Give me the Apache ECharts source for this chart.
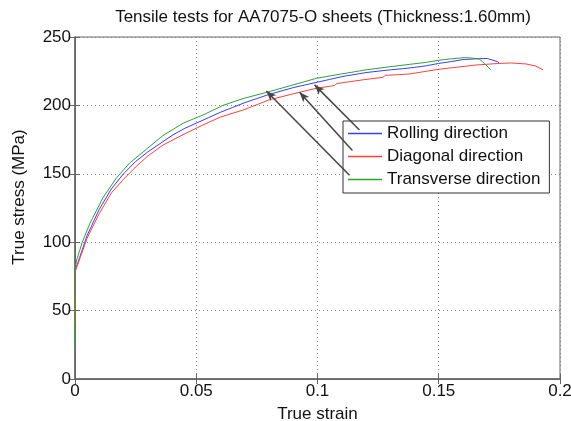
<!DOCTYPE html>
<html>
<head>
<meta charset="utf-8">
<script src="https://cdn.jsdelivr.net/npm/echarts@6/dist/echarts.min.js"></script>
<style>
  html, body { margin: 0; padding: 0; background: #fff; }
  #chart { width: 571px; height: 421px; }
</style>
</head>
<body>
<div id="chart"></div>
<script>
// [true strain, true stress (MPa)]
const rolling = [
  [0, 60], [0, 80], [0.001, 84], [0.005, 105], [0.01, 124], [0.015, 139], [0.02, 150],
  [0.025, 159], [0.03, 166], [0.035, 172], [0.04, 178], [0.045, 183], [0.05, 187],
  [0.055, 191], [0.06, 195], [0.065, 198.5], [0.07, 202], [0.075, 205], [0.08, 208],
  [0.085, 210.5], [0.09, 213], [0.095, 215], [0.1, 217], [0.105, 219], [0.11, 221],
  [0.115, 222.5], [0.12, 224], [0.125, 225], [0.13, 226], [0.135, 226.8], [0.14, 227.8],
  [0.145, 229], [0.15, 230.7], [0.155, 232], [0.16, 233.5], [0.165, 234], [0.17, 234.3],
  [0.1742, 232], [0.175, 231]
];
const diagonal = [
  [0, 40], [0, 78], [0.001, 83], [0.005, 103], [0.01, 121], [0.015, 136], [0.02, 146],
  [0.025, 155], [0.03, 163], [0.0363, 171], [0.045, 179], [0.0528, 185.7], [0.06, 191.5],
  [0.0693, 196.6], [0.08, 204], [0.09, 208.5], [0.0995, 212.5], [0.107, 214.5], [0.108, 216],
  [0.12, 219], [0.127, 220.5], [0.128, 222], [0.1337, 222.5], [0.138, 223], [0.15, 226.4],
  [0.1653, 229.5], [0.175, 230.7], [0.18, 231], [0.186, 230.3], [0.19, 228.8], [0.193, 226]
];
const transverse = [
  [0, 24], [0, 80], [0.0007, 87], [0.003, 100], [0.0062, 114], [0.0117, 133], [0.0171, 147],
  [0.0226, 158], [0.0281, 166], [0.0363, 178], [0.0446, 187], [0.0528, 193], [0.061, 200],
  [0.0693, 205], [0.08, 210], [0.09, 215], [0.0995, 219.8], [0.11, 223], [0.12, 226],
  [0.13, 228.3], [0.138, 230], [0.145, 231.5], [0.15, 233], [0.155, 234], [0.161, 235],
  [0.1667, 234], [0.1687, 230.8], [0.1715, 226]
];
const seriesNames = ['Rolling direction', 'Diagonal direction', 'Transverse direction'];
const seriesColors = ['#3b3bff', '#ff4040', '#33a033'];
// arrows: [tail, head] in data coords
const arrowLines = [
  [[0.1173, 182], [0.0988, 215]],
  [[0.1144, 167], [0.0926, 209.6]],
  [[0.1132, 149], [0.0789, 210.5]]
];

const xTicks = { min: 0, max: 0.2, interval: 0.05 };
const yTicks = { min: 0, max: 250, interval: 50 };

const chart = echarts.init(document.getElementById('chart'));
const font = 'Liberation Sans, Arial, sans-serif';
const axisCol = '#666';
const fs = 17;

const option = {
  backgroundColor: '#fff',
  animation: false,
  textStyle: { fontFamily: font },
  title: {
    text: 'Tensile tests for AA7075-O sheets (Thickness:1.60mm)',
    left: 318,
    textAlign: 'center',
    top: 4,
    textStyle: { fontSize: fs, fontWeight: 'normal', color: '#111', fontFamily: font }
  },
  grid: {
    left: 75, right: 11, top: 37, bottom: 42, outerBoundsMode: 'none',
    show: true, borderColor: axisCol, borderWidth: 1
  },
  legend: {
    data: seriesNames,
    orient: 'vertical',
    left: 343,
    top: 121,
    icon: 'rect',
    itemWidth: 34,
    itemHeight: 1.5,
    itemGap: 4,
    padding: [3, 9, 4, 5],
    backgroundColor: '#fff',
    borderColor: '#333',
    borderWidth: 1,
    textStyle: { fontSize: fs, lineHeight: 19, color: '#111', fontFamily: font }
  },
  xAxis: [{
    type: 'value', ...xTicks,
    name: 'True strain', nameLocation: 'middle', nameGap: 27,
    nameTextStyle: { fontSize: fs, color: '#111' },
    axisLine: { lineStyle: { color: axisCol, width: 1.5 } },
    axisTick: { inside: true, length: 5, lineStyle: { color: axisCol } },
    axisLabel: { fontSize: fs, color: '#111', margin: 4 },
    splitLine: { show: true, lineStyle: { type: [1, 3], color: '#888' } }
  }, {
    type: 'value', ...xTicks, position: 'top',
    axisLine: { lineStyle: { color: axisCol } },
    axisTick: { inside: true, length: 5, lineStyle: { color: axisCol } },
    axisLabel: { show: false }, splitLine: { show: false }
  }],
  yAxis: [{
    type: 'value', ...yTicks,
    name: 'True stress (MPa)', nameLocation: 'middle', nameGap: 47,
    nameTextStyle: { fontSize: fs, color: '#111', padding: [0, 0, 0, 22] },
    axisLine: { show: true, lineStyle: { color: axisCol, width: 1.5 } },
    axisTick: { show: true, inside: true, length: 5, lineStyle: { color: axisCol } },
    axisLabel: { fontSize: fs, color: '#111', margin: 4 },
    splitLine: { show: true, lineStyle: { type: [1, 3], color: '#888' } }
  }, {
    type: 'value', ...yTicks, position: 'right',
    axisLine: { show: true, lineStyle: { color: axisCol } },
    axisTick: { show: true, inside: true, length: 5, lineStyle: { color: axisCol } },
    axisLabel: { show: false }, splitLine: { show: false }
  }],
  series: [
    { name: seriesNames[0], type: 'line', data: rolling, showSymbol: false,
      color: seriesColors[0], lineStyle: { width: 1 } },
    { name: seriesNames[1], type: 'line', data: diagonal, showSymbol: false,
      color: seriesColors[1], lineStyle: { width: 1 } },
    { name: seriesNames[2], type: 'line', data: transverse, showSymbol: false,
      color: seriesColors[2], lineStyle: { width: 1 } },
    {
      name: 'arrows', type: 'line', data: [], z: 10,
      markLine: {
        silent: true,
        symbol: ['none', 'arrow'],
        symbolSize: [6, 10],
        label: { show: false },
        lineStyle: { color: '#444', width: 1.5, type: 'solid' },
        data: arrowLines.map(a => [{ coord: a[0] }, { coord: a[1] }])
      }
    }
  ]
};
chart.setOption(option);
</script>
</body>
</html>
